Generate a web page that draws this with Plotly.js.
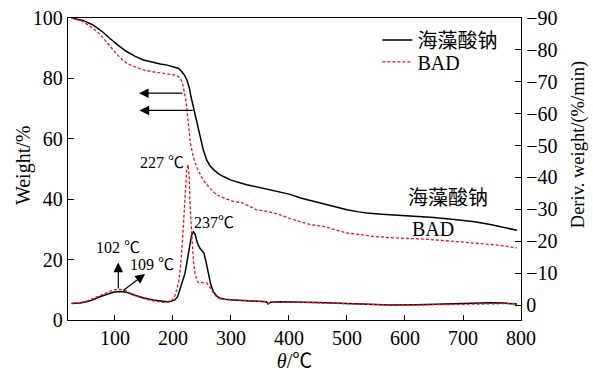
<!DOCTYPE html>
<html>
<head>
<meta charset="utf-8">
<script src="https://cdn.plot.ly/plotly-3.0.1.min.js"></script>
<style>html,body{margin:0;padding:0;background:#fff;}#chart{width:593px;height:372px;}</style>
</head>
<body>
<div id="chart"></div>
<script>
// Sodium alginate (海藻酸钠) TG curve: temperature (°C), weight (%)
const saTgX = [25,45,62,80,91,105,120,135,149,165,178,190,201,210,215,220,224,228,231,234,237,242,247,252,258,264,270,278,287,300,327,350,367,385,402,420,442,465,488,500,520,534,560,603,650,689,720,747,770,793];
const saTgY = [100,99.2,97.7,95.2,93.3,91,88.9,87.3,86.1,85.3,84.8,84.4,83.9,83.3,82.3,81,79.5,77,74,71.5,69,64.5,60.2,56.5,53,51,49.8,48.5,47.5,46.3,44.8,43.8,43.1,42.3,41.6,40.4,39.3,38,36.9,36.5,35.8,35.4,35,34.5,33.9,33.2,32.5,31.6,30.7,29.7];

// BAD TG curve
const badTgX = [25,45,62,72,80,90,97,108,120,135,149,165,178,190,201,208,212,216,219,221.5,223.6,226,228,230,234,238,245,252,262,275,290,304,321,344,362,385,408,437,459,480,500,522,545,580,632,680,718,760,793];
const badTgY = [100,98.8,96.6,95,93.3,91.2,89.4,87,85,83.8,82.8,82.2,81.9,81.6,81.2,80.8,80.1,78.8,76.2,73.5,70.5,65.5,61.5,58.5,55,52,49,46.4,44,41.5,40.2,39.3,38.7,36.5,36,34.8,33.2,31.6,31,29.8,28.8,28.3,27.7,27.2,26.8,26.1,25.5,24.8,23.9];

// Sodium alginate DTG curve: temperature (°C), deriv. weight (%/min)
const saDtgX = [25,40,51,62,74,86,97,108,120,137,150,166,180,189,197,203,208,212,216,220.7,225,229,232,235,238,240.6,243,246.6,250,253.5,257,261,265,269.5,275,281,290,304,330,350,361,364,368,385,408,450,500,540,574,620,660,700,747,770,793];
const saDtgY = [-0.5,-0.6,-1.0,-1.6,-2.6,-3.4,-4.0,-4.2,-4.0,-2.9,-2.2,-1.6,-1.2,-1.0,-1.2,-1.6,-2.6,-4.7,-7.0,-9.9,-14.5,-19.3,-21.8,-23.0,-22.3,-20.4,-19.0,-17.8,-16.8,-16.2,-13.5,-9.9,-6.5,-4.2,-2.9,-2.1,-1.8,-1.6,-1.4,-1.2,-1.0,-0.3,-0.9,-1.0,-1.0,-0.8,-0.5,-0.3,0.0,-0.1,-0.3,-0.5,-0.7,-0.6,-0.3];

// BAD DTG curve
const badDtgX = [25,40,51,62,74,86,97,108,118,131.6,150,166,183,192,198,203,206.4,210,213,216,219,221.5,223.6,226,228,229,231,234,236,238,241,243.7,250,258,262,266.8,272,278,290,304,330,361,364,368,408,450,500,540,574,620,660,700,747,770,793];
const badDtgY = [-0.5,-0.7,-1.2,-2.0,-3.1,-4.0,-4.7,-4.9,-4.6,-3.1,-2.0,-1.3,-0.8,-0.9,-1.4,-2.8,-4.7,-7.5,-12,-19,-27.7,-36,-42.3,-44,-40,-32.9,-25,-17.2,-12.5,-9.9,-8,-7,-7,-7,-6,-4.7,-3.2,-2.1,-1.7,-1.6,-1.4,-1.0,-0.4,-0.9,-0.9,-0.7,-0.4,-0.1,0.0,0.0,-0.1,-0.2,-0.4,-0.5,-0.5];

const seriesNames = ['海藻酸钠', 'BAD'];
const xTicks = [100,200,300,400,500,600,700,800];
const yTicks = [0,20,40,60,80,100];
const y2Ticks = [0,-10,-20,-30,-40,-50,-60,-70,-80,-90];

const FONT = 'Liberation Serif, Noto Sans CJK SC, serif';
const BLACK = '#000000';
const RED = '#e8141e';

const traces = [
  {x: saTgX, y: saTgY, name: seriesNames[0], mode: 'lines', line: {color: BLACK, width: 1.5}, yaxis: 'y', legend: 'legend'},
  {x: badTgX, y: badTgY, name: seriesNames[1], mode: 'lines', line: {color: RED, width: 1.3, dash: '3px,2px'}, yaxis: 'y', legend: 'legend2'},
  {x: saDtgX, y: saDtgY, name: seriesNames[0], mode: 'lines', line: {color: BLACK, width: 1.5}, yaxis: 'y2', showlegend: false},
  {x: badDtgX, y: badDtgY, name: seriesNames[1], mode: 'lines', line: {color: RED, width: 1.3, dash: '3px,2px'}, yaxis: 'y2', showlegend: false}
];

const annFont = {family: FONT, size: 16, color: '#000'};
const bigFont = {family: FONT, size: 20, color: '#000'};
const legFont = {family: FONT, size: 20, color: '#000'};

const layout = {
  width: 593, height: 372,
  margin: {l: 68, r: 72, t: 18, b: 52},
  paper_bgcolor: '#fff', plot_bgcolor: '#fff',
  font: {family: FONT, size: 20, color: '#000'},
  showlegend: true,
  legend: {x: 0.683, y: 0.992, xanchor: 'left', yanchor: 'top', bgcolor: 'rgba(0,0,0,0)', font: legFont, itemwidth: 30},
  legend2: {x: 0.683, y: 0.919, xanchor: 'left', yanchor: 'top', bgcolor: 'rgba(0,0,0,0)', font: legFont, itemwidth: 30},
  xaxis: {
    range: [19, 800], tickvals: xTicks, ticks: 'inside', ticklen: 5, tickwidth: 1, tickcolor: '#000',
    showline: true, linecolor: '#000', linewidth: 1.2, mirror: true, showgrid: false, zeroline: false,
    tickfont: {family: FONT, size: 20},
    title: {text: '<i>θ</i>/℃', font: {family: FONT, size: 20}, standoff: 6}
  },
  yaxis: {
    range: [0, 100], tickvals: yTicks, ticks: 'inside', ticklen: 6, tickwidth: 1, tickcolor: '#000',
    showline: true, linecolor: '#000', linewidth: 1.2, showgrid: false, zeroline: false,
    tickfont: {family: FONT, size: 20}
  },
  yaxis2: {
    overlaying: 'y', side: 'right', range: [4.7, -90], tickvals: y2Ticks,
    ticks: 'inside', ticklen: 6, tickwidth: 1, tickcolor: '#000',
    showline: true, linecolor: '#000', linewidth: 1.2, showgrid: false, zeroline: false,
    tickfont: {family: FONT, size: 20}
  },
  annotations: [
    // axis titles
    {x: -0.097, y: 0.51, xref: 'paper', yref: 'paper', xanchor: 'center', yanchor: 'middle', text: 'Weight/%', textangle: -90, showarrow: false, font: {family: FONT, size: 20, color: '#000'}},
    {x: 1.126, y: 0.579, xref: 'paper', yref: 'paper', xanchor: 'center', yanchor: 'middle', text: 'Deriv. weight/(%/min)', textangle: -90, showarrow: false, font: {family: FONT, size: 18.5, color: '#000'}},
    // arrows
    {x: 141.4, y: 75.1, ax: 219, ay: 75.1, xref: 'x', yref: 'y', axref: 'x', ayref: 'y', text: '', showarrow: true, arrowhead: 2, arrowsize: 1.6, arrowwidth: 1.2, arrowcolor: '#000'},
    {x: 142.4, y: 69.4, ax: 236.8, ay: 69.4, xref: 'x', yref: 'y', axref: 'x', ayref: 'y', text: '', showarrow: true, arrowhead: 2, arrowsize: 1.6, arrowwidth: 1.2, arrowcolor: '#000'},
    {x: 105.7, y: -13.3, ax: 105.7, ay: -4.7, xref: 'x', yref: 'y2', axref: 'x', ayref: 'y2', text: '', showarrow: true, arrowhead: 2, arrowsize: 1.6, arrowwidth: 1.2, arrowcolor: '#000'},
    {x: 151.8, y: -9.7, ax: 111.6, ay: -4.2, xref: 'x', yref: 'y2', axref: 'x', ayref: 'y2', text: '', showarrow: true, arrowhead: 2, arrowsize: 1.6, arrowwidth: 1.2, arrowcolor: '#000'},
    // labels
    {x: 181, y: 52.1, xref: 'x', yref: 'y', text: '227 ℃', showarrow: false, font: annFont},
    {x: 270.7, y: 32.2, xref: 'x', yref: 'y', text: '237℃', showarrow: false, font: annFont},
    {x: 105.2, y: 24, xref: 'x', yref: 'y', text: '102 ℃', showarrow: false, font: annFont},
    {x: 163.8, y: 18.3, xref: 'x', yref: 'y', text: '109 ℃', showarrow: false, font: annFont},
    {x: 674, y: 40.5, xref: 'x', yref: 'y', text: '海藻酸钠', showarrow: false, font: bigFont},
    {x: 648, y: 30.2, xref: 'x', yref: 'y', text: 'BAD', showarrow: false, font: bigFont}
  ]
};

Plotly.newPlot('chart', traces, layout, {displayModeBar: false, staticPlot: true});
</script>
</body>
</html>
